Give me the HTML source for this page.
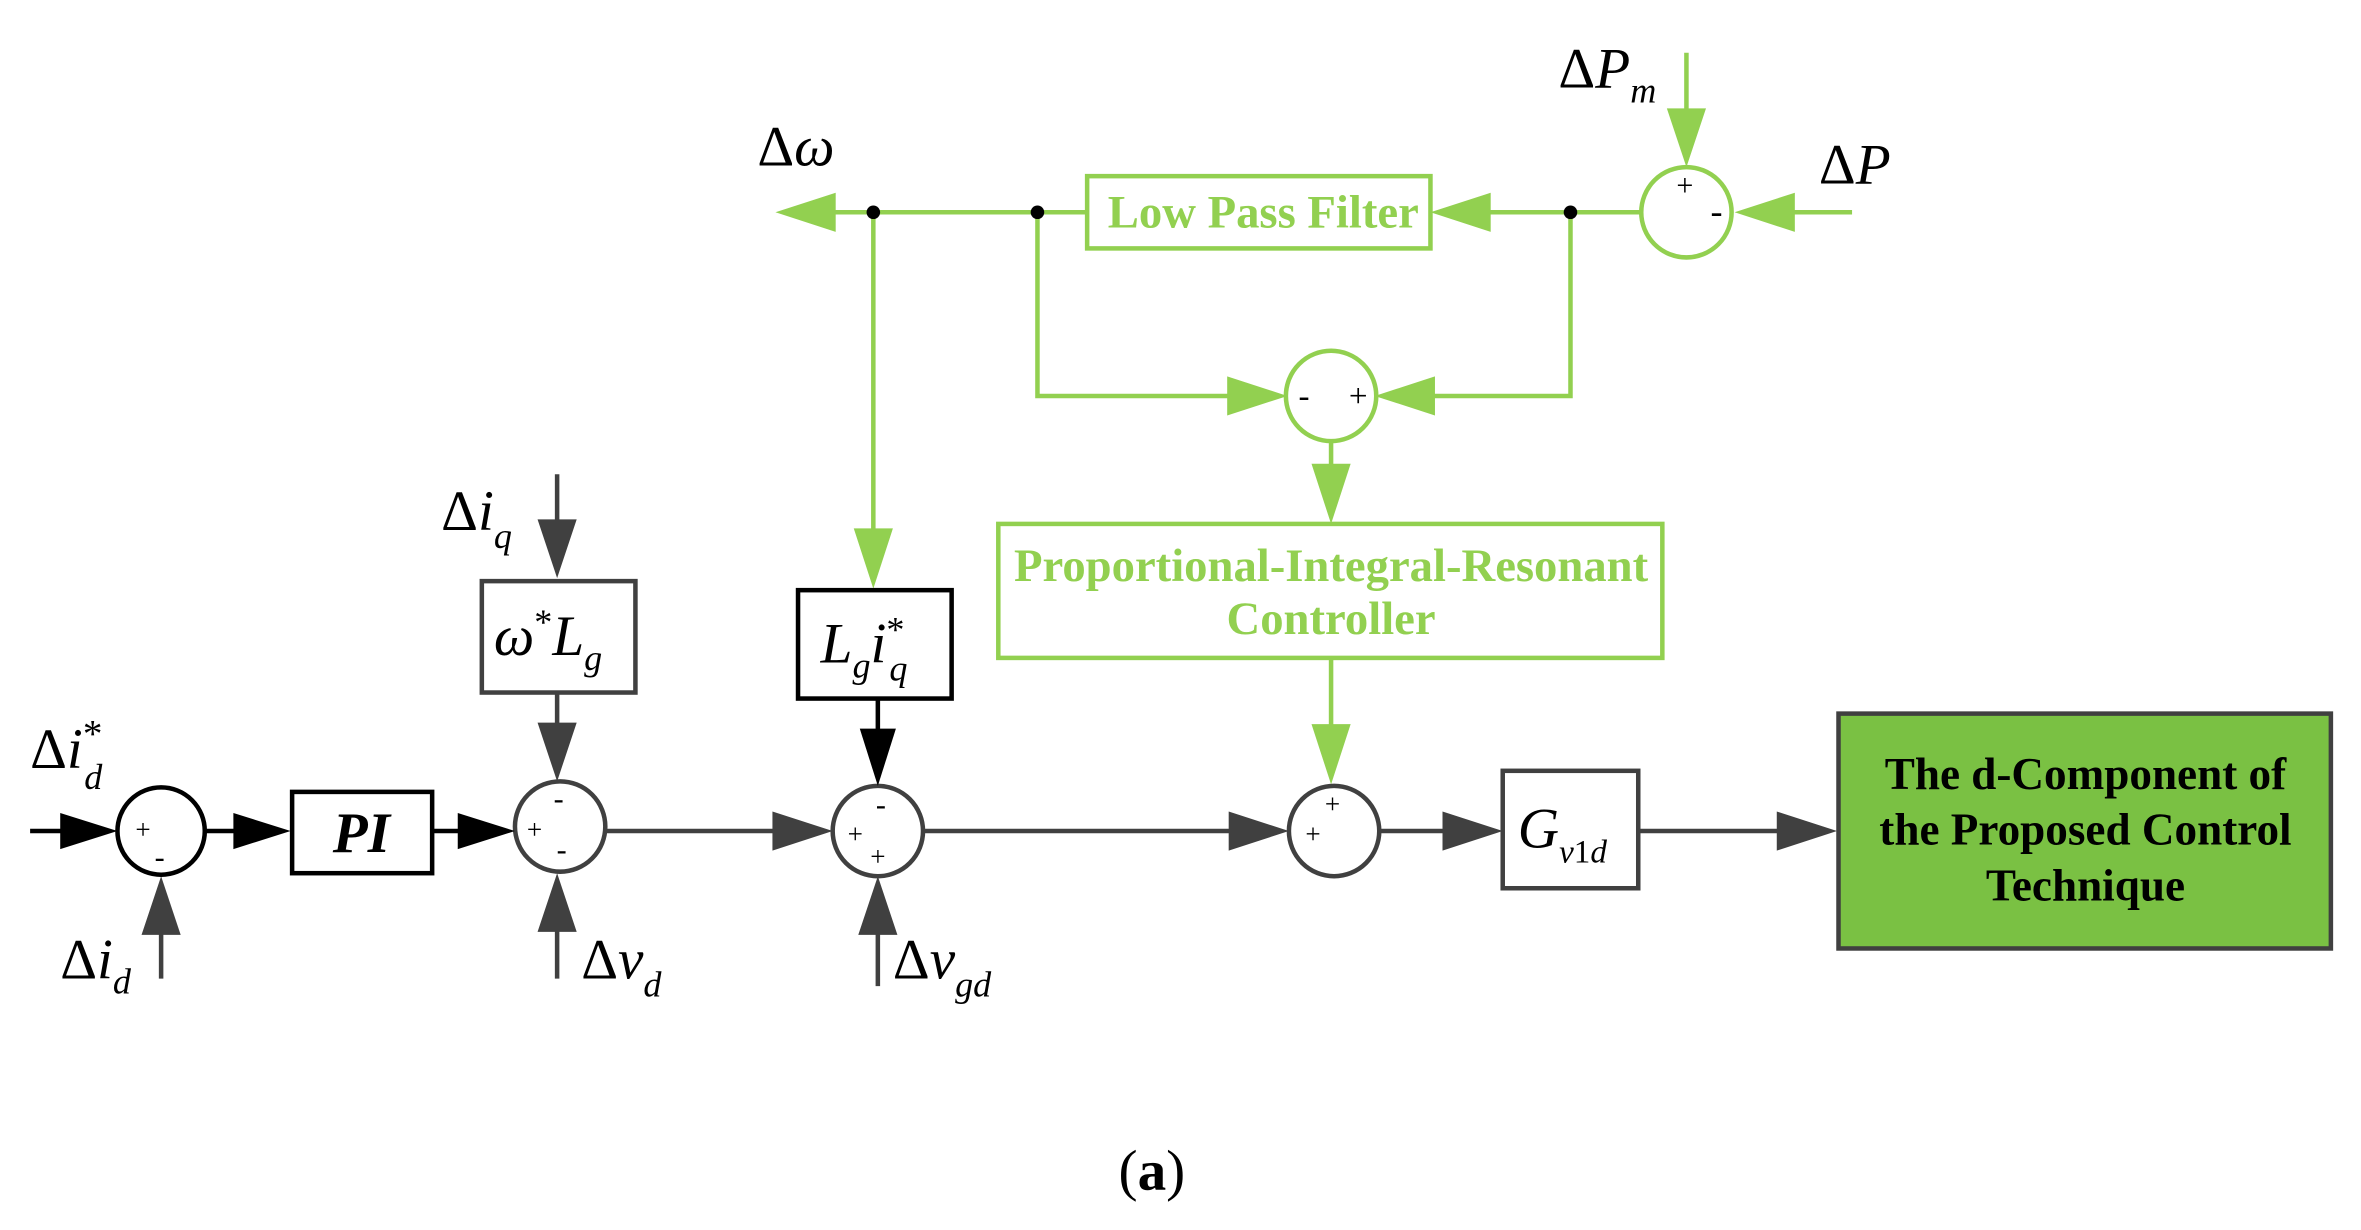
<!DOCTYPE html>
<html><head><meta charset="utf-8"><style>
html,body{margin:0;padding:0;background:#fff}
svg{display:block}
text{font-family:"Liberation Serif",serif}
.g{fill:#92d050}
.it{font-style:italic}
</style></head><body>
<svg width="2361" height="1230" viewBox="0 0 1568 817" preserveAspectRatio="none" xmlns="http://www.w3.org/2000/svg">
<style>
.gl{stroke:#92d050;stroke-width:3;fill:none}
.kl{stroke:#404040;stroke-width:3;fill:none}
.bl{stroke:#000;stroke-width:3;fill:none}
</style>
<g class="gl">
<line x1="722" y1="141" x2="540" y2="141"/>
<line x1="1090" y1="141" x2="970" y2="141"/>
<line x1="1120" y1="35" x2="1120" y2="90"/>
<line x1="1230" y1="141" x2="1172" y2="141"/>
<path d="M689,141 V263 H835"/>
<path d="M1043,141 V263 H935"/>
<line x1="884" y1="293" x2="884" y2="330"/>
<line x1="580" y1="141" x2="580" y2="370"/>
<line x1="884" y1="437" x2="884" y2="500"/>
<rect x="722" y="117" width="228" height="48"/>
<circle cx="1120" cy="141" r="30"/>
<circle cx="884" cy="263" r="30"/>
<rect x="663" y="348" width="441" height="89"/>
</g>
<g fill="#000"><circle cx="580" cy="141" r="4.5"/><circle cx="689" cy="141" r="4.5"/><circle cx="1043" cy="141" r="4.5"/></g>
<g class="g">
<path d="M515,141 L555,128 L555,154 z"/>
<path d="M950,141 L990,128 L990,154 z"/>
<path d="M1120,111 L1107,72 L1133,72 z"/>
<path d="M1152,141 L1192,128 L1192,154 z"/>
<path d="M855,263 L815,250 L815,276 z"/>
<path d="M913,263 L953,250 L953,276 z"/>
<path d="M884,348 L871,308 L897,308 z"/>
<path d="M580,391 L567,351 L593,351 z"/>
<path d="M884,521 L871,481 L897,481 z"/>
</g>
<text x="1119" y="130" font-size="20" text-anchor="middle">+</text>
<text x="1136" y="148" font-size="24">-</text>
<text x="866" y="270" font-size="22" text-anchor="middle">-</text>
<text x="902" y="270" font-size="22" text-anchor="middle">+</text>
<text x="839" y="151" class="g" font-size="31" font-weight="bold" text-anchor="middle">Low Pass Filter</text>
<text x="884" y="386" class="g" font-size="31" font-weight="bold" text-anchor="middle">Proportional-Integral-Resonant</text>
<text x="884" y="421" class="g" font-size="31" font-weight="bold" text-anchor="middle">Controller</text>
<text x="503" y="110" font-size="38">Δ<tspan class="it">ω</tspan></text>
<text x="1035" y="58" font-size="38">Δ<tspan class="it">P</tspan><tspan class="it" font-size="24" dy="10">m</tspan></text>
<text x="1208" y="122" font-size="38">Δ<tspan class="it">P</tspan></text>
<g class="kl">
<line x1="370" y1="315" x2="370" y2="360"/>
<line x1="370" y1="460" x2="370" y2="500"/>
<line x1="370" y1="650" x2="370" y2="600"/>
<line x1="402" y1="552" x2="530" y2="552"/>
<line x1="613" y1="552" x2="836" y2="552"/>
<line x1="916" y1="552" x2="978" y2="552"/>
<line x1="1088" y1="552" x2="1200" y2="552"/>
<line x1="583" y1="655" x2="583" y2="600"/>
<line x1="107" y1="650" x2="107" y2="600"/>
<circle cx="372" cy="549" r="30"/>
<circle cx="583" cy="552" r="30"/>
<circle cx="886" cy="552" r="30"/>
<rect x="320" y="386" width="102" height="74"/>
<rect x="998" y="512" width="90" height="78"/>
</g>
<g fill="#404040">
<path d="M370,384 L357,345 L383,345 z"/>
<path d="M370,519 L357,480 L383,480 z"/>
<path d="M370,580 L357,619 L383,619 z"/>
<path d="M553,552 L513,539 L513,565 z"/>
<path d="M583,582 L570,621 L596,621 z"/>
<path d="M107,582 L94,621 L120,621 z"/>
<path d="M856,552 L816,539 L816,565 z"/>
<path d="M998,552 L958,539 L958,565 z"/>
<path d="M1220,552 L1180,539 L1180,565 z"/>
</g>
<g class="bl">
<line x1="20" y1="552" x2="60" y2="552"/>
<line x1="136" y1="552" x2="175" y2="552"/>
<line x1="287" y1="552" x2="320" y2="552"/>
<line x1="583" y1="464" x2="583" y2="500"/>
<circle cx="107" cy="552" r="29"/>
<rect x="194" y="526" width="93" height="54"/>
<rect x="530" y="392" width="102" height="72"/>
</g>
<g fill="#000">
<path d="M78,552 L40,540 L40,564 z"/>
<path d="M193,552 L155,540 L155,564 z"/>
<path d="M342,552 L304,540 L304,564 z"/>
<path d="M583,522 L571,484 L595,484 z"/>
</g>
<rect x="1221" y="474" width="327" height="156" fill="#7ac143" stroke="#404040" stroke-width="3"/>
<text x="1385" y="524" font-size="30" font-weight="bold" text-anchor="middle">The d-Component of</text>
<text x="1385" y="561" font-size="30" font-weight="bold" text-anchor="middle">the Proposed Control</text>
<text x="1385" y="598" font-size="30" font-weight="bold" text-anchor="middle">Technique</text>
<text x="95" y="557" font-size="18" text-anchor="middle">+</text>
<text x="106" y="576" font-size="20" text-anchor="middle">-</text>
<text x="371" y="537" font-size="20" text-anchor="middle">-</text>
<text x="355" y="557" font-size="18" text-anchor="middle">+</text>
<text x="373" y="571" font-size="20" text-anchor="middle">-</text>
<text x="585" y="541" font-size="20" text-anchor="middle">-</text>
<text x="568" y="560" font-size="18" text-anchor="middle">+</text>
<text x="583" y="575" font-size="18" text-anchor="middle">+</text>
<text x="885" y="540" font-size="18" text-anchor="middle">+</text>
<text x="872" y="560" font-size="18" text-anchor="middle">+</text>
<text x="240" y="566" font-size="38" font-weight="bold" font-style="italic" text-anchor="middle">PI</text>
<text x="328" y="435" font-size="38"><tspan class="it">ω</tspan><tspan font-size="24" dy="-14">*</tspan><tspan class="it" dy="14">L</tspan><tspan class="it" font-size="24" dy="10">g</tspan></text>
<text x="545" y="440" font-size="38"><tspan class="it">L</tspan><tspan class="it" font-size="24" dy="10">g</tspan><tspan class="it" dy="-10">i</tspan><tspan font-size="24" dy="-14">*</tspan><tspan class="it" font-size="24" dx="-10" dy="26">q</tspan></text>
<text x="1008" y="563" font-size="38"><tspan class="it">G</tspan><tspan class="it" font-size="22" dy="10">v</tspan><tspan font-size="22">1</tspan><tspan class="it" font-size="22">d</tspan></text>
<text x="293" y="352" font-size="38">Δ<tspan class="it">i</tspan><tspan class="it" font-size="24" dy="12">q</tspan></text>
<text x="20" y="510" font-size="38">Δ<tspan class="it">i</tspan><tspan font-size="26" dy="-14">*</tspan><tspan class="it" font-size="24" dx="-12" dy="28">d</tspan></text>
<text x="40" y="650" font-size="38">Δ<tspan class="it">i</tspan><tspan class="it" font-size="24" dy="10">d</tspan></text>
<text x="386" y="650" font-size="38">Δ<tspan class="it">v</tspan><tspan class="it" font-size="24" dy="12">d</tspan></text>
<text x="593" y="650" font-size="38">Δ<tspan class="it">v</tspan><tspan class="it" font-size="24" dy="12">gd</tspan></text>
<text x="765" y="790" font-size="38" text-anchor="middle">(<tspan font-weight="bold">a</tspan>)</text>
</svg>
</body></html>
